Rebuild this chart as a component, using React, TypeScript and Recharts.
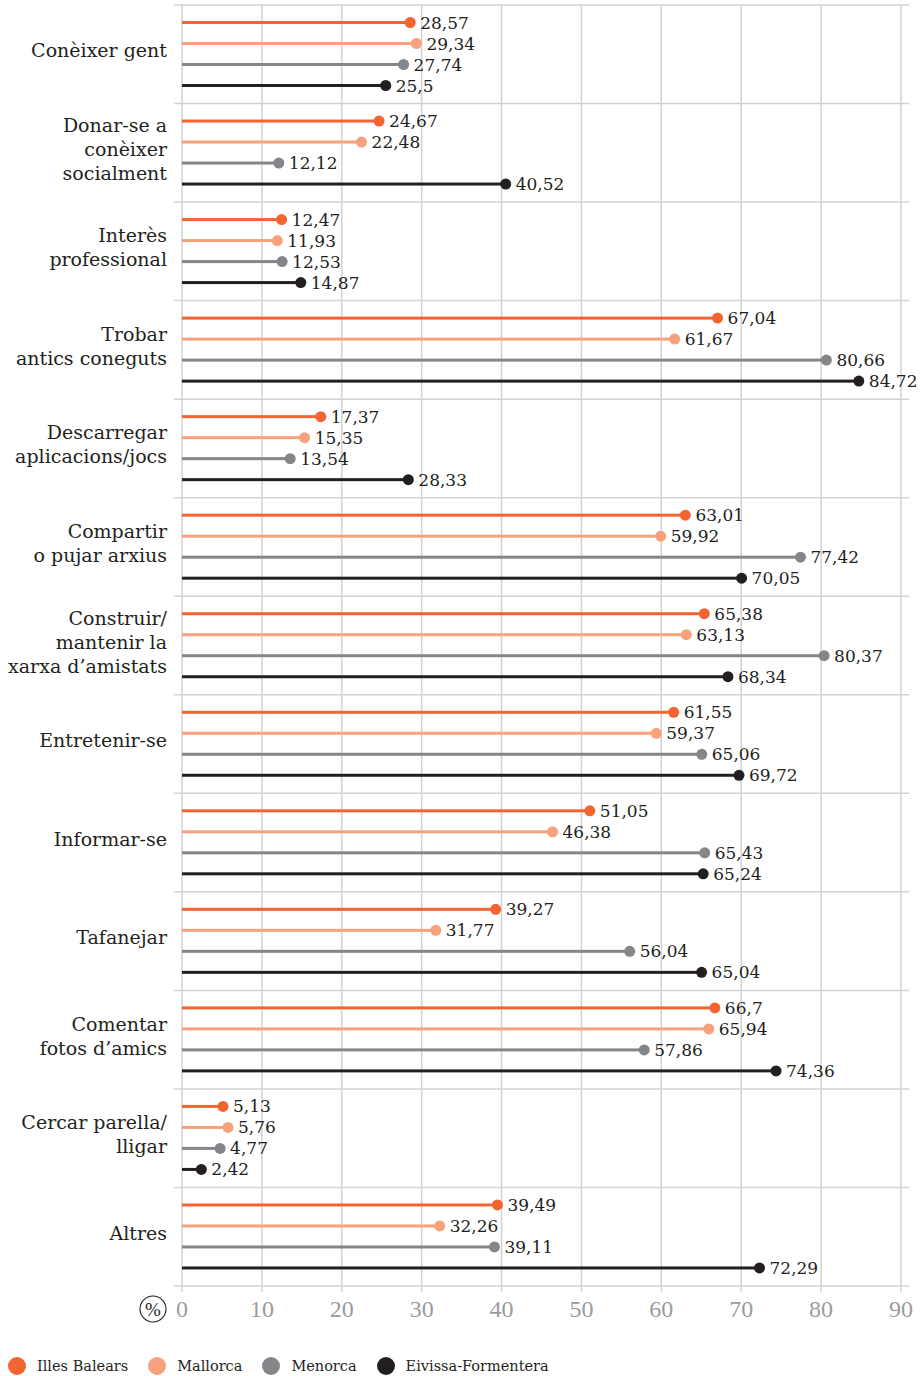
import React from 'react';
import { ComposedChart, Bar, XAxis, YAxis, ReferenceLine, LabelList, CartesianGrid } from 'recharts';

const categories = [
  'Conèixer gent',
  'Donar-se a\nconèixer\nsocialment',
  'Interès\nprofessional',
  'Trobar\nantics coneguts',
  'Descarregar\naplicacions/jocs',
  'Compartir\no pujar arxius',
  'Construir/\nmantenir la\nxarxa d’amistats',
  'Entretenir-se',
  'Informar-se',
  'Tafanejar',
  'Comentar\nfotos d’amics',
  'Cercar parella/\nlligar',
  'Altres',
];

const illesBalears = [28.57, 24.67, 12.47, 67.04, 17.37, 63.01, 65.38, 61.55, 51.05, 39.27, 66.7, 5.13, 39.49];
const mallorca = [29.34, 22.48, 11.93, 61.67, 15.35, 59.92, 63.13, 59.37, 46.38, 31.77, 65.94, 5.76, 32.26];
const menorca = [27.74, 12.12, 12.53, 80.66, 13.54, 77.42, 80.37, 65.06, 65.43, 56.04, 57.86, 4.77, 39.11];
const eivissa = [25.5, 40.52, 14.87, 84.72, 28.33, 70.05, 68.34, 69.72, 65.24, 65.04, 74.36, 2.42, 72.29];

const xTicks = [0, 10, 20, 30, 40, 50, 60, 70, 80, 90];
const seriesKeys = ['ib', 'mallorca', 'menorca', 'eivissa'];
const seriesNames = ['Illes Balears', 'Mallorca', 'Menorca', 'Eivissa-Formentera'];
const seriesColors = ['#f26531', '#f7a27c', '#858689', '#231f20'];

const data = categories.map((name, i) => ({
  name,
  ib: illesBalears[i],
  mallorca: mallorca[i],
  menorca: menorca[i],
  eivissa: eivissa[i],
}));

const FONT = '"DejaVu Serif", serif';
const GRID = '#d2d2d4';

const fmt = (v: number) => String(v).replace('.', ',');

const Lollipop = (props: any) => {
  const { x, y, width, height, fill } = props;
  const cy = y + height / 2;
  return (
    <g>
      <rect x={x} y={cy - 1.5} width={Math.max(width, 0)} height={3} fill={fill} />
      <circle cx={x + width} cy={cy} r={5.5} fill={fill} />
    </g>
  );
};

const ValueLabel = (props: any) => {
  const { x, y, width, height, value } = props;
  return (
    <text x={x + width + 10} y={y + height / 2 + 6} fontSize={17} fontFamily={FONT} fill="#231f20">
      {fmt(value)}
    </text>
  );
};

const CatTick = (props: any) => {
  const { x, y, payload } = props;
  const lines = String(payload.value).split('\n');
  const n = lines.length;
  return (
    <text textAnchor="end" fontSize={19} fontFamily={FONT} fill="#231f20">
      {lines.map((l, i) => (
        <tspan key={i} x={x} y={y + 3 + (i - (n - 1) / 2) * 24}>
          {l}
        </tspan>
      ))}
    </text>
  );
};

const XTick = (props: any) => {
  const { x, y, payload } = props;
  return (
    <g>
      <text x={x} y={y + 25} textAnchor="middle" fontSize={24} fontFamily='"Liberation Serif", serif' fill="#9b9b9d">
        {payload.value}
      </text>
      {payload.value === 0 && (
        <g>
          <circle cx={x - 29} cy={y + 17} r={13} fill="none" stroke="#231f20" strokeWidth={1.1} />
          <text x={x - 29} y={y + 24} textAnchor="middle" fontSize={19} fontFamily='"Liberation Serif", serif' fill="#231f20">
            %
          </text>
        </g>
      )}
    </g>
  );
};

export default function App() {
  const last = categories[categories.length - 1];
  return (
    <div style={{ position: 'relative', width: 920, height: 1376 }}>
      <style>{'body{margin:0}'}</style>
      <ComposedChart
        width={920}
        height={1376}
        data={data}
        layout="vertical"
        margin={{ top: 5, right: 19, bottom: 50, left: 0 }}
        barGap={18}
      >
        <CartesianGrid horizontal={false} vertical stroke={GRID} strokeWidth={1.5} />
        <XAxis
          type="number"
          domain={[0, 90]}
          ticks={xTicks}
          axisLine={false}
          tickLine={{ stroke: GRID, strokeWidth: 1.5 }}
          tickSize={6}
          tickMargin={0}
          height={40}
          tick={<XTick />}
          allowDataOverflow
        />
        <YAxis
          type="category"
          dataKey="name"
          width={182}
          axisLine={false}
          tickLine={false}
          tickSize={0}
          tickMargin={15}
          tick={<CatTick />}
          interval={0}
        />
        {categories.map((c) => (
          <ReferenceLine
            key={'h' + c}
            segment={[{ x: -1, y: c }, { x: 91, y: c }]}
            position="start"
            stroke={GRID}
            strokeWidth={1.5}
            ifOverflow="visible"
          />
        ))}
        <ReferenceLine
          segment={[{ x: -1, y: last }, { x: 91, y: last }]}
          position="end"
          stroke={GRID}
          strokeWidth={1.5}
          ifOverflow="visible"
        />
        {seriesKeys.map((k, i) => (
          <Bar
            key={k}
            dataKey={k}
            name={seriesNames[i]}
            fill={seriesColors[i]}
            barSize={3}
            shape={<Lollipop />}
            isAnimationActive={false}
          >
            <LabelList dataKey={k} content={<ValueLabel />} />
          </Bar>
        ))}
      </ComposedChart>
      <div
        style={{
          position: 'absolute',
          left: 8,
          top: 1357,
          display: 'flex',
          alignItems: 'center',
          gap: 20,
          fontFamily: FONT,
          fontSize: 14.5,
          color: '#231f20',
        }}
      >
        {seriesNames.map((n, i) => (
          <div key={n} style={{ display: 'flex', alignItems: 'center' }}>
            <span
              style={{
                display: 'inline-block',
                width: 18,
                height: 18,
                borderRadius: '50%',
                background: seriesColors[i],
                marginRight: 11,
              }}
            />
            <span>{n}</span>
          </div>
        ))}
      </div>
    </div>
  );
}
